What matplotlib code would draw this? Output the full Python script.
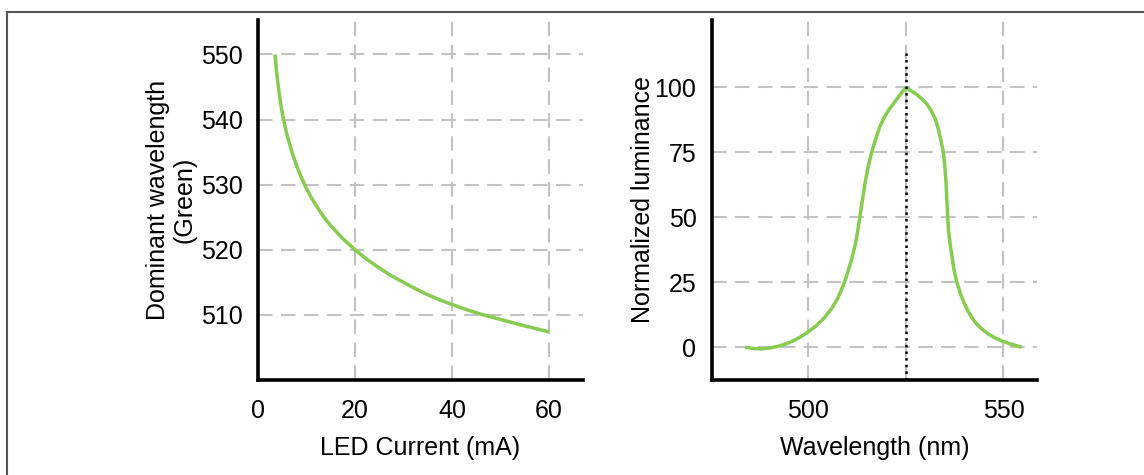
import matplotlib.pyplot as plt
import matplotlib.patches as patches

plt.rcParams['font.family'] = ['Liberation Sans', 'DejaVu Sans']
plt.rcParams['font.size'] = 18

# left panel: dominant wavelength vs LED current
current = [3.5, 3.8, 4.2, 4.6, 5, 5.5, 6, 7, 8, 9, 10, 11, 12, 13.5, 15, 17.5,
           20, 22.5, 25, 27.5, 30, 32.5, 35, 37.5, 40, 43, 46, 50, 55, 60]
dom_wl = [550, 547.5, 545, 542.8, 541, 539.2, 537.6, 535, 532.8, 531, 529.4,
          528, 526.8, 525.1, 523.7, 521.7, 520, 518.5, 517.2, 516, 515, 514,
          513.1, 512.3, 511.6, 510.8, 510.1, 509.3, 508.3, 507.4]

# right panel: normalized luminance spectrum
wl = [483.8, 486, 488, 490, 492, 494, 496, 498, 500, 502, 504, 506, 507.5,
      509, 510, 511, 512, 512.6, 513.2, 513.85, 514.5, 515.3, 516.2, 517.2,
      518.3, 519.5, 520.7, 521.8, 523, 524, 525, 526, 527.5, 529, 530.3, 531.5,
      532.5, 533.3, 534, 534.6, 535, 535.3, 535.5, 535.7, 535.9, 536.3, 536.8,
      537.3, 538, 539, 540, 541, 542, 543, 544, 546, 548, 550, 552, 554.7]
lum = [0, -0.5, -0.6, -0.3, 0.3, 1.2, 2.4, 4, 6, 8.3, 11.2, 15, 18.8,
       24, 28.5, 33.5, 39.5, 44.5, 50.3, 56.8, 63, 69.5, 75, 80,
       84.9, 88.7, 91.6, 93.8, 96.2, 98.2, 100, 99, 97.6, 95.7, 93.8, 91,
       88, 84, 79.5, 75, 69, 63, 56.5, 50.3, 45, 40, 35,
       30, 25.3, 20.5, 16.8, 13.7, 11.2, 9.2, 7.6, 5.2, 3.5, 2.2, 1.2, 0]
peak_wl = 525

green = '#86cc4e'
grid_kw = dict(color='#c3c3c3', linestyle=(0, (7, 4)), linewidth=1.5)

fig = plt.figure(figsize=(11.44, 4.75), dpi=100)
fig.patches.append(patches.Rectangle((0.006, -0.1), 1.2, 1.075, transform=fig.transFigure,
                                     fill=False, edgecolor='#555555', linewidth=1.5))

ax1 = fig.add_axes((258/1144, 0.2, (583 - 258)/1144, 0.958 - 0.2))
ax2 = fig.add_axes((711.7/1144, 0.2, (1037 - 711.7)/1144, 0.958 - 0.2))

for ax in (ax1, ax2):
    for s in ('top', 'right'):
        ax.spines[s].set_visible(False)
    for s in ('left', 'bottom'):
        ax.spines[s].set_linewidth(2.6)
        ax.spines[s].set_color('black')
    ax.tick_params(length=0, labelsize=18)
    ax.tick_params(axis='x', pad=14)
    ax.tick_params(axis='y', pad=11)
    ax.grid(True, **grid_kw)
    ax.set_axisbelow(True)

ax1.plot(current, dom_wl, color=green, linewidth=2.5, solid_capstyle='butt')
ax1.set_xlim(0, 67)
ax1.set_ylim(500, 555.3)
ax1.set_xticks([0, 20, 40, 60])
ax1.set_yticks([510, 520, 530, 540, 550])
ax1.set_xlabel('LED Current (mA)', labelpad=9)
ax1.set_ylabel('Dominant wavelength\n(Green)', labelpad=3, linespacing=1.15)

ax2.plot(wl, lum, color=green, linewidth=2.5, solid_capstyle='butt')
ax2.axvline(peak_wl, ymin=0, ymax=(113.4 + 12.6)/(126 + 12.6), color='black',
            linestyle=':', linewidth=1.8)
ax2.set_xlim(475.2, 558.6)
ax2.set_ylim(-12.6, 126)
ax2.set_xticks([500, 525, 550])
ax2.set_xticklabels(['500', '', '550'])
ax2.set_yticks([0, 25, 50, 75, 100])
ax2.set_xlabel('Wavelength (nm)', labelpad=9)
ax2.set_ylabel('Normalized luminance', labelpad=0)

fig.savefig('out.png', dpi=100)
